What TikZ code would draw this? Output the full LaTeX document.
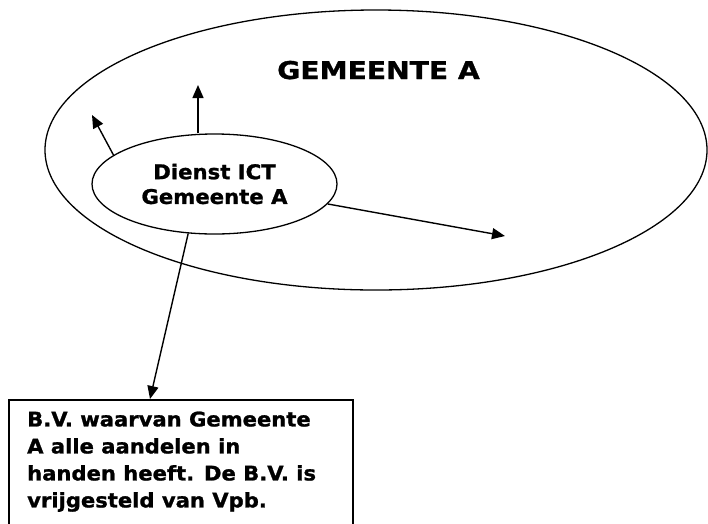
\documentclass[tikz,border=0pt]{standalone}
\usepackage{fontspec}
\setmainfont{DejaVu Sans}[FakeStretch=1.05, BoldFeatures={FakeBold=1.2}]
\newfontfamily\titlefont{DejaVu Sans}[FakeStretch=1.15, BoldFeatures={FakeBold=1.2}]
\usetikzlibrary{arrows.meta,shapes.geometric,calc}
\begin{document}
\begin{tikzpicture}[x=1pt,y=1pt,
  ring/.style={draw, ellipse, line width=1.3pt, inner sep=0pt},
  link/.style={line width=1.4pt, -{Triangle[length=13pt,width=11pt]}},
  framebox/.style={draw, line width=1.5pt, inner sep=0pt, anchor=north west}]
\useasboundingbox (0,0) rectangle (708,-523);
\clip (0,0) rectangle (708,-523);
% outer ellipse
\node[ring, minimum width=662, minimum height=280] (gem) at (376,-150) {};
\node[anchor=base, inner sep=0pt, font=\titlefont\bfseries\fontsize{24.5}{30}\selectfont] (title) at (378.5,-79) {GEMEENTE A};
% inner ellipse
\node[ring, minimum width=245, minimum height=100, align=center,
      font=\bfseries\fontsize{20.2}{25}\selectfont] (ict) at (214.5,-184) {Dienst ICT\\[-0.2pt]Gemeente A};
% box
\node[framebox, minimum width=344, minimum height=170] (bv) at (8,-399) {};
\node[anchor=north west, inner sep=0pt, align=left,
      font=\bfseries\fontsize{20.1}{27}\selectfont] (bvtext) at (27,-411.3)
  {B.V. waarvan Gemeente\\A alle aandelen in\\handen heeft. De B.V. is\\vrijgesteld van Vpb.};
% arrow tips
\coordinate (t1) at (92,-115);
\coordinate (t2) at (198,-85);
\coordinate (t3) at (505,-236);
\coordinate (t4) at (150,-399);
\draw[link] (ict.164) -- (t1);
\draw[link] (ict.north -| t2) -- (t2);
\draw[link] (ict.-10) -- (t3);
\draw[link] (ict.-118.5) -- (t4);
\end{tikzpicture}
\end{document}
